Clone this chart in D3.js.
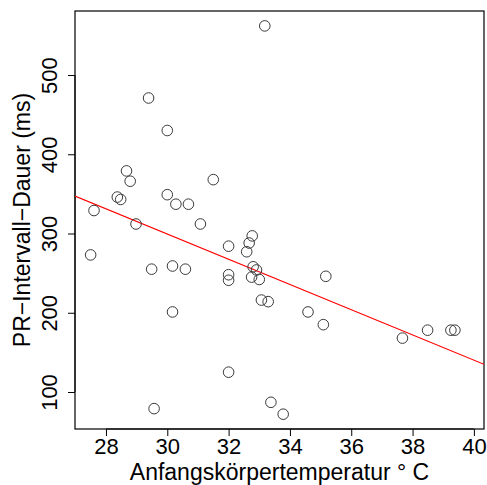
<!DOCTYPE html>
<html lang="de">
<head>
  <meta charset="UTF-8">
  <title>PR-Intervall vs. Anfangskörpertemperatur</title>
  <script src="https://d3js.org/d3.v7.min.js"></script>
  <style>
    body { margin: 0; background: #fff; }
    svg { display: block; font-family: "Liberation Sans", Arial, sans-serif; }
  </style>
</head>
<body>
<svg width="487" height="485"></svg>
<script>
  // data
  const temps = [33.18, 29.39, 30.0, 28.67, 28.79, 28.37, 28.48, 27.61, 30.0, 30.28,
                 30.69, 28.98, 31.5, 31.08, 32.0, 27.5, 29.49, 30.17, 30.59, 30.17,
                 32.0, 29.57, 32.0, 32.0, 32.77, 32.67, 32.59, 32.8, 32.91, 32.75,
                 33.0, 33.07, 33.29, 35.17, 34.59, 35.09, 37.67, 38.49, 39.25, 39.38,
                 33.38, 33.78];
  const prValues = [562, 471, 430, 379, 366, 346, 343, 329, 349, 337,
                    337, 312, 368, 312, 284, 273, 255, 259, 255, 201,
                    125, 79, 248, 241, 297, 288, 277, 258, 254, 245,
                    242, 216, 214, 246, 201, 185, 168, 178, 178, 178,
                    87, 72];
  const xTicks = [28, 30, 32, 34, 36, 38, 40];
  const yTicks = [100, 200, 300, 400, 500];
  const fit = [776.7, -15.91]; // intercept, slope

  const points = temps.map((t, i) => ({t: t, pr: prValues[i]}));

  const plot = {left: 75, top: 11, right: 484, bottom: 429};
  const svg = d3.select("svg");

  const x = d3.scaleLinear().domain([26.99, 40.33]).range([plot.left, plot.right]);
  const y = d3.scaleLinear().domain([53.3, 580.8]).range([plot.bottom, plot.top]);

  // axes, R style
  const xAxis = svg.append("g")
    .attr("transform", `translate(0,${plot.bottom})`)
    .call(d3.axisBottom(x).tickValues(xTicks).tickSize(7).tickSizeOuter(0));
  xAxis.select(".domain").attr("d", `M${x(28)},0H${x(40)}`);
  xAxis.selectAll("text").attr("font-size", 22).attr("fill", "#000").attr("dy", null).attr("y", 25);

  const yAxis = svg.append("g")
    .attr("transform", `translate(${plot.left},0)`)
    .call(d3.axisLeft(y).tickValues(yTicks).tickSize(7).tickSizeOuter(0));
  yAxis.select(".domain").attr("d", `M0,${y(100)}V${y(500)}`);
  yAxis.selectAll("text")
    .attr("font-size", 22).attr("fill", "#000")
    .attr("x", null).attr("dy", null)
    .attr("text-anchor", "middle")
    .attr("transform", "translate(-18,0) rotate(-90)");
  svg.selectAll(".tick line").attr("stroke", "#000");

  // box
  svg.append("rect")
    .attr("x", plot.left).attr("y", plot.top)
    .attr("width", plot.right - plot.left).attr("height", plot.bottom - plot.top)
    .attr("fill", "none").attr("stroke", "#000").attr("stroke-width", 1.2);

  // regression line
  svg.append("clipPath").attr("id", "clip")
    .append("rect")
    .attr("x", plot.left).attr("y", plot.top)
    .attr("width", plot.right - plot.left).attr("height", plot.bottom - plot.top);

  const ends = x.domain();
  svg.append("line")
    .attr("clip-path", "url(#clip)")
    .attr("x1", x(ends[0])).attr("y1", y(fit[0] + fit[1] * ends[0]))
    .attr("x2", x(ends[1])).attr("y2", y(fit[0] + fit[1] * ends[1]))
    .attr("stroke", "#ff0000").attr("stroke-width", 1.1);

  // points
  svg.append("g").selectAll("circle")
    .data(points)
    .join("circle")
    .attr("cx", d => x(d.t))
    .attr("cy", d => y(d.pr))
    .attr("r", 5.3)
    .attr("fill", "none")
    .attr("stroke", "#3a3a3a")
    .attr("stroke-width", 1);

  // axis titles
  svg.append("text")
    .attr("x", (plot.left + plot.right) / 2)
    .attr("y", 480)
    .attr("text-anchor", "middle")
    .attr("font-size", 23)
    .text("Anfangskörpertemperatur ° C");

  svg.append("text")
    .attr("transform", `translate(30,${(plot.top + plot.bottom) / 2}) rotate(-90)`)
    .attr("text-anchor", "middle")
    .attr("font-size", 23)
    .text("PR−Intervall−Dauer (ms)");
</script>
</body>
</html>
